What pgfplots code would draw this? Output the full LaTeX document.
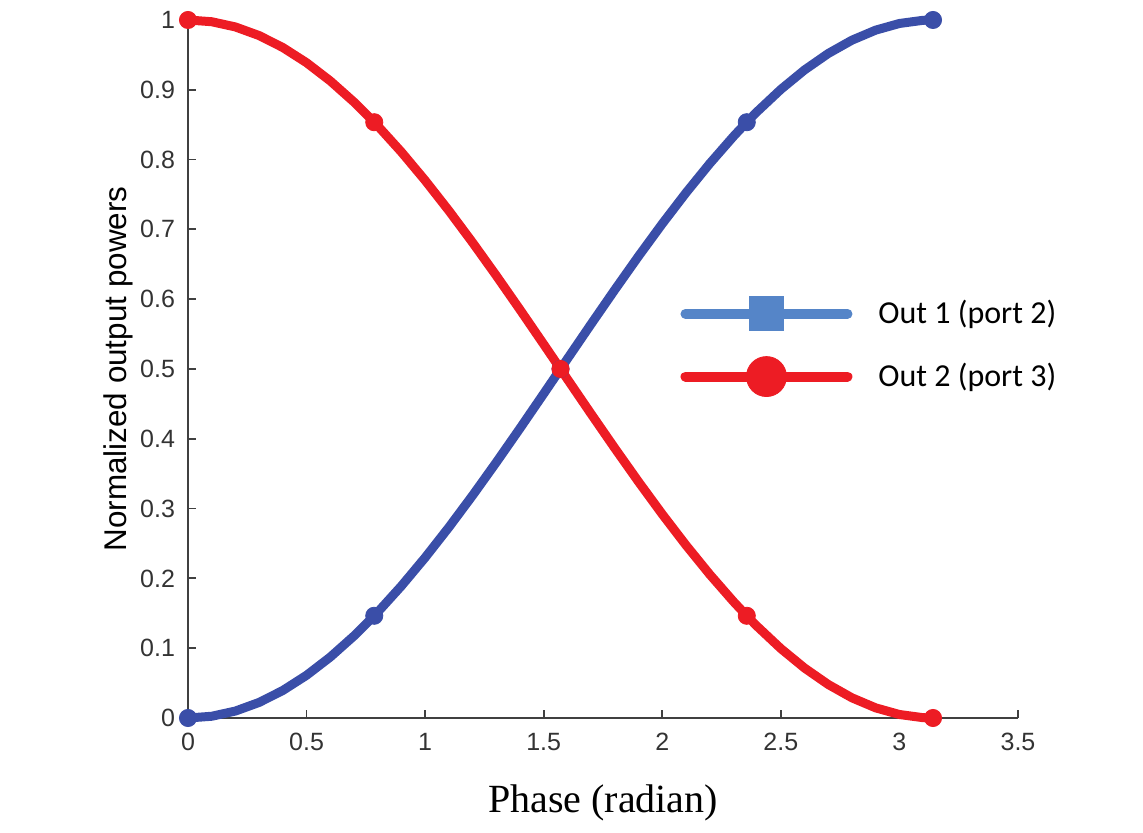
\documentclass[border=0pt]{standalone}
\usepackage{pgfplots}
\pgfplotsset{compat=1.18}
\usepackage{pgfplotstable}
\usepackage{fontspec}
\setmainfont{Liberation Sans}
\newfontfamily\serifft{Liberation Serif}
\newfontfamily\calib{Carlito}
\definecolor{cblue}{RGB}{58,78,168}
\definecolor{cred}{RGB}{237,28,36}
\definecolor{lblue}{RGB}{85,133,200}
\definecolor{axgray}{RGB}{64,64,64}

\pgfplotstableread{
x y
0 0
0.1 0.002498
0.2 0.009967
0.3 0.022332
0.4 0.039470
0.5 0.061209
0.6 0.087332
0.7 0.117579
0.7854 0.146447
0.8 0.151647
0.9 0.189195
1.0 0.229849
1.1 0.273202
1.2 0.318821
1.3 0.366251
1.4 0.415016
1.5 0.464631
1.5708 0.5
1.6 0.514600
1.7 0.564422
1.8 0.613601
1.9 0.661645
2.0 0.708073
2.1 0.752423
2.2 0.794251
2.3 0.833138
2.3562 0.853553
2.4 0.868697
2.5 0.900572
2.6 0.928444
2.7 0.952036
2.8 0.971111
2.9 0.985479
3.0 0.994996
3.1 0.999568
3.1416 1
}\outone

\pgfplotstableread{
x y
0 1
0.1 0.997502
0.2 0.990033
0.3 0.977668
0.4 0.960530
0.5 0.938791
0.6 0.912668
0.7 0.882421
0.7854 0.853553
0.8 0.848353
0.9 0.810805
1.0 0.770151
1.1 0.726798
1.2 0.681179
1.3 0.633749
1.4 0.584984
1.5 0.535369
1.5708 0.5
1.6 0.485400
1.7 0.435578
1.8 0.386399
1.9 0.338355
2.0 0.291927
2.1 0.247577
2.2 0.205749
2.3 0.166862
2.3562 0.146447
2.4 0.131303
2.5 0.099428
2.6 0.071556
2.7 0.047964
2.8 0.028889
2.9 0.014521
3.0 0.005004
3.1 0.000432
3.1416 0
}\outtwo

\pgfplotstableread{
x y
0 0
0.7854 0.146447
1.5708 0.5
2.3562 0.853553
3.1416 1
}\markone

\pgfplotstableread{
x y
0 1
0.7854 0.853553
1.5708 0.5
2.3562 0.146447
3.1416 0
}\marktwo

\begin{document}
\begin{tikzpicture}
\begin{axis}[
  name=ax,
  at={(0,0)}, anchor=south west,
  scale only axis,
  width=415pt, height=349pt,
  xmin=0, xmax=3.5, ymin=0, ymax=1,
  axis x line=bottom, axis y line=left,
  axis line style={-, axgray, line width=0.9pt},
  tick align=inside,
  major tick length=4pt,
  tick style={axgray, line width=0.9pt},
  xtick={0,0.5,1,1.5,2,2.5,3,3.5},
  xticklabels={0,0.5,1,1.5,2,2.5,3,3.5},
  ytick={0,0.1,0.2,0.3,0.4,0.5,0.6,0.7,0.8,0.9,1},
  yticklabels={0,0.1,0.2,0.3,0.4,0.5,0.6,0.7,0.8,0.9,1},
  ticklabel style={font=\fontsize{12.5}{14}\selectfont, text=black!80},
  xticklabel style={yshift=-4pt},
  yticklabel style={xshift=-3pt},
  xlabel={\serifft\fontsize{20}{22}\selectfont Phase (radian)},
  xlabel style={at={(0.5,0)}, anchor=north, yshift=-30pt},
  ylabel={\fontsize{15.7}{17}\selectfont Normalized output powers},
  ylabel style={at={(0,0.5)}, anchor=south, yshift=24pt},
  clip=false,
  legend style={draw=none, fill=none, inner sep=0pt, at={(axis cs:2.075,0.532)}, anchor=west,
    font=\calib\fontsize{16}{18}\selectfont, row sep=12.5pt,
    /tikz/every odd column/.style={column sep=11pt}},
  legend cell align=left,
]
\addlegendimage{legend image code/.code={
  \draw[lblue, line width=5pt, line cap=round] (2.5pt,0pt) -- (83.5pt,0pt);
  \fill[lblue] (34.5pt,-8.5pt) rectangle (51.5pt,8.5pt);}}
\addlegendentry{Out 1 (port 2)}
\addlegendimage{legend image code/.code={
  \draw[cred, line width=5pt, line cap=round] (2.5pt,0pt) -- (83.5pt,0pt);
  \fill[cred] (43pt,0pt) circle (10pt);}}
\addlegendentry{Out 2 (port 3)}

\addplot[cblue, line width=4.5pt, forget plot] table[x=x,y=y] {\outone};
\addplot[only marks, mark=*, mark size=4.3pt, cblue, forget plot] table[x=x,y=y] {\markone};
\addplot[cred, line width=4.5pt, forget plot] table[x=x,y=y] {\outtwo};
\addplot[only marks, mark=*, mark size=4.3pt, cred, forget plot] table[x=x,y=y] {\marktwo};
\end{axis}
\pgfresetboundingbox
\path[use as bounding box] (ax.south west) ++(-94pt,-57.5pt) rectangle ++(571.5pt,416.5pt);
\end{tikzpicture}
\end{document}
